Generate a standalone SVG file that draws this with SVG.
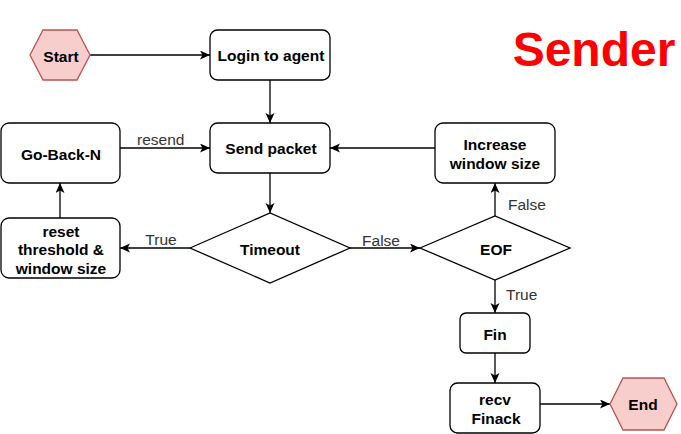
<svg xmlns="http://www.w3.org/2000/svg" width="681" height="434" viewBox="0 0 681 434">
<defs>
<style>
.box{fill:#fff;stroke:#000;stroke-width:1.3}
.hex{fill:#f8cecc;stroke:#b85450;stroke-width:1.3}
.dia{fill:#fff;stroke:#000;stroke-width:1.3}
.t{font-family:"Liberation Sans",Arial,sans-serif;font-size:15.5px;font-weight:bold;fill:#000;text-anchor:middle}
.lbl{font-family:"Liberation Sans",Arial,sans-serif;font-size:15.5px;fill:#333}
.e{fill:none;stroke:#000;stroke-width:1.3;marker-end:url(#arr)}
</style>
<marker id="arr" markerUnits="userSpaceOnUse" markerWidth="12" markerHeight="10" refX="10" refY="4.5" orient="auto">
<path d="M0,0 L10,4.5 L0,9 L2.5,4.5 Z" fill="#000"/>
</marker>
</defs>
<rect width="681" height="434" fill="#fff"/>
<g id="connectors">
<path class="e" d="M90,55 L210,55"/>
<path class="e" d="M270,80 L270,123"/>
<path class="e" d="M120,148 L210,148"/>
<path class="e" d="M270,173 L270,213"/>
<path class="e" d="M190,248 L120,248"/>
<path class="e" d="M60,218 L60,183"/>
<path class="e" d="M350,248 L420,248"/>
<path class="e" d="M495,216 L495,183"/>
<path class="e" d="M435,148 L330,148"/>
<path class="e" d="M495,280 L495,313"/>
<path class="e" d="M495,353 L495,383"/>
<path class="e" d="M540,404 L610,404"/>
<text class="lbl" x="137" y="145">resend</text>
<text class="lbl" x="161" y="245" text-anchor="middle">True</text>
<text class="lbl" x="381" y="246" text-anchor="middle">False</text>
<text class="lbl" x="508" y="210">False</text>
<text class="lbl" x="506" y="300">True</text>
</g>
<g id="start">
<polygon class="hex" points="30,55 43,30 77,30 90,55 77,80 43,80"/>
<text class="t" x="61" y="61.5">Start</text>
</g>
<g id="login">
<rect class="box" x="210" y="30" width="120" height="50" rx="7.5"/>
<text class="t" x="271" y="61">Login to agent</text>
</g>
<g id="send">
<rect class="box" x="210" y="123" width="120" height="50" rx="7.5"/>
<text class="t" x="271" y="154">Send packet</text>
</g>
<g id="gobackn">
<rect class="box" x="1" y="123" width="119" height="60" rx="8"/>
<text class="t" x="61" y="160">Go-Back-N</text>
</g>
<g id="reset">
<rect class="box" x="1" y="218" width="119" height="60" rx="8"/>
<text class="t" x="61" y="236.5">reset</text>
<text class="t" x="61" y="255">threshold &amp;</text>
<text class="t" x="61" y="273.5">window size</text>
</g>
<g id="timeout">
<polygon class="dia" points="190,248 270,213 350,248 270,283"/>
<text class="t" x="270" y="255">Timeout</text>
</g>
<g id="eof">
<polygon class="dia" points="420,248 495,216 570,248 495,280"/>
<text class="t" x="496" y="255">EOF</text>
</g>
<g id="increase">
<rect class="box" x="435" y="123" width="120" height="60" rx="8"/>
<text class="t" x="495" y="150">Increase</text>
<text class="t" x="495" y="169">window size</text>
</g>
<g id="fin">
<rect class="box" x="460" y="313" width="70" height="40" rx="6"/>
<text class="t" x="495" y="340">Fin</text>
</g>
<g id="recv">
<rect class="box" x="450" y="383" width="90" height="50" rx="7.5"/>
<text class="t" x="495" y="405">recv</text>
<text class="t" x="496" y="423.5">Finack</text>
</g>
<g id="end">
<polygon class="hex" points="610,404 623,378 664,378 677,404 664,430 623,430"/>
<text class="t" x="643" y="410">End</text>
</g>
<g id="title">
<text x="594" y="66" font-family="'Liberation Sans',Arial,sans-serif" font-size="48" font-weight="bold" fill="#ff0000" text-anchor="middle">Sender</text>
</g>
</svg>
